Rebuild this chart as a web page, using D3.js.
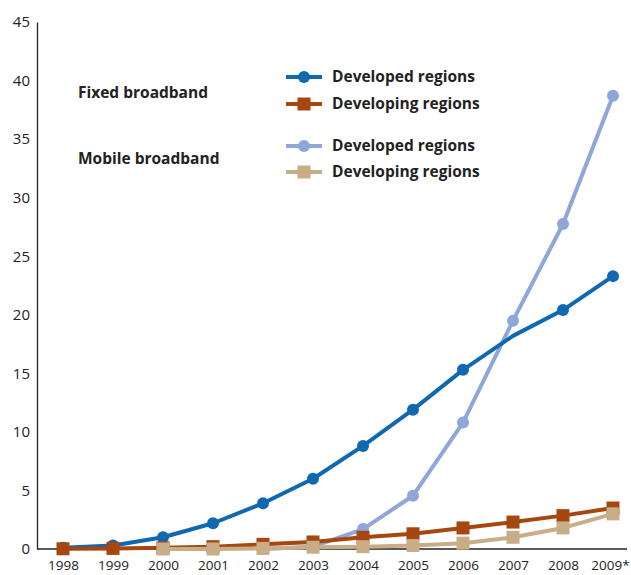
<!DOCTYPE html>
<html><head><meta charset="utf-8">
<script src="https://cdn.jsdelivr.net/npm/d3@7"></script>
<style>body{margin:0;background:#fff}svg{display:block}</style>
</head><body>
<svg id="c" width="631" height="575"></svg>
<script>
const years = ["1998","1999","2000","2001","2002","2003","2004","2005","2006","2007","2008","2009*"];
const yTicks = [0,5,10,15,20,25,30,35,40,45];
const fixedDeveloped  = [0.1,0.3,1.0,2.2,3.9,6.0,8.8,11.9,15.3,18.2,20.4,23.3];
const fixedDeveloping = [0.02,0.05,0.1,0.2,0.4,0.6,1.0,1.3,1.8,2.3,2.85,3.5];
const mobileDeveloped = [null,null,null,null,0.0,0.2,1.7,4.55,10.8,19.5,27.75,38.7];
const mobileDeveloping= [null,null,0.0,0.0,0.05,0.15,0.2,0.3,0.5,1.0,1.8,3.0];
const fixedDevelopedNoMarker = ["2007"];
const groupLabels = ["Fixed broadband","Mobile broadband"];
const seriesNames = ["Developed regions","Developing regions","Developed regions","Developing regions"];

const svg = d3.select("#c");
const x = d3.scalePoint().domain(years).range([63,613]);
const y = d3.scaleLinear().domain([0,45]).range([549,22]);
const font = "'Open Sans', sans-serif";

// axes
const ya = svg.append("g").attr("transform","translate(37,0)")
  .call(d3.axisLeft(y).tickValues(yTicks).tickSize(0).tickPadding(7));
ya.select(".domain").attr("stroke","#222").attr("stroke-width",1.3);
ya.selectAll("text").attr("font-family",font).attr("font-size",15).attr("fill","#222");
svg.append("line").attr("x1",37).attr("x2",627).attr("y1",y(0)).attr("y2",y(0)).attr("stroke","#222").attr("stroke-width",1.3);
const xa = svg.append("g").attr("transform",`translate(0,${y(0)})`)
  .call(d3.axisBottom(x).tickSize(0).tickPadding(11));
xa.select(".domain").remove();
xa.selectAll("text").attr("font-family",font).attr("font-size",13.5).attr("fill","#222");
xa.selectAll("text").filter((d,i,n)=>i===n.length-1).attr("dx",-3);

const series = [
  {data:mobileDeveloped, color:"#8fa6d8", shape:"circle", skip:[]},
  {data:fixedDeveloped, color:"#1068b3", shape:"circle", skip:fixedDevelopedNoMarker},
  {data:fixedDeveloping, color:"#a5470f", shape:"square", skip:[]},
  {data:mobileDeveloping, color:"#c8ad87", shape:"square", skip:[]},
];
const line = d3.line().defined(d=>d.v!=null).x(d=>x(d.yr)).y(d=>y(d.v));
series.forEach(s=>{
  const pts = years.map((yr,i)=>({yr, v:s.data[i]}));
  svg.append("path").datum(pts).attr("d",line).attr("fill","none")
    .attr("stroke",s.color).attr("stroke-width",4).attr("stroke-linejoin","round");
  const mp = pts.filter(d=>d.v!=null && !s.skip.includes(d.yr));
  if(s.shape==="circle"){
    svg.selectAll(null).data(mp).join("circle").attr("cx",d=>x(d.yr)).attr("cy",d=>y(d.v)).attr("r",6).attr("fill",s.color);
  } else {
    svg.selectAll(null).data(mp).join("rect").attr("x",d=>x(d.yr)-6.5).attr("y",d=>y(d.v)-6.5).attr("width",13).attr("height",13).attr("fill",s.color);
  }
});

// legend
const legY = [77,104,146,172];
const legOrder = [1,2,0,3];
legOrder.forEach((si,i)=>{
  const s = series[si];
  const g = svg.append("g");
  g.append("line").attr("x1",286).attr("x2",322).attr("y1",legY[i]).attr("y2",legY[i]).attr("stroke",s.color).attr("stroke-width",4);
  if(s.shape==="circle") g.append("circle").attr("cx",304).attr("cy",legY[i]).attr("r",6).attr("fill",s.color);
  else g.append("rect").attr("x",297.5).attr("y",legY[i]-6.5).attr("width",13).attr("height",13).attr("fill",s.color);
  g.append("text").attr("x",332).attr("y",legY[i]).attr("dy","0.35em").attr("font-family",font)
    .attr("font-weight","bold").attr("font-size",15.5).attr("fill","#222").text(seriesNames[i]);
});
[93,159].forEach((yy,i)=>{
  svg.append("text").attr("x",78).attr("y",yy).attr("dy","0.35em").attr("font-family",font)
    .attr("font-weight","bold").attr("font-size",15.5).attr("fill","#222").text(groupLabels[i]);
});
</script>
</body></html>
